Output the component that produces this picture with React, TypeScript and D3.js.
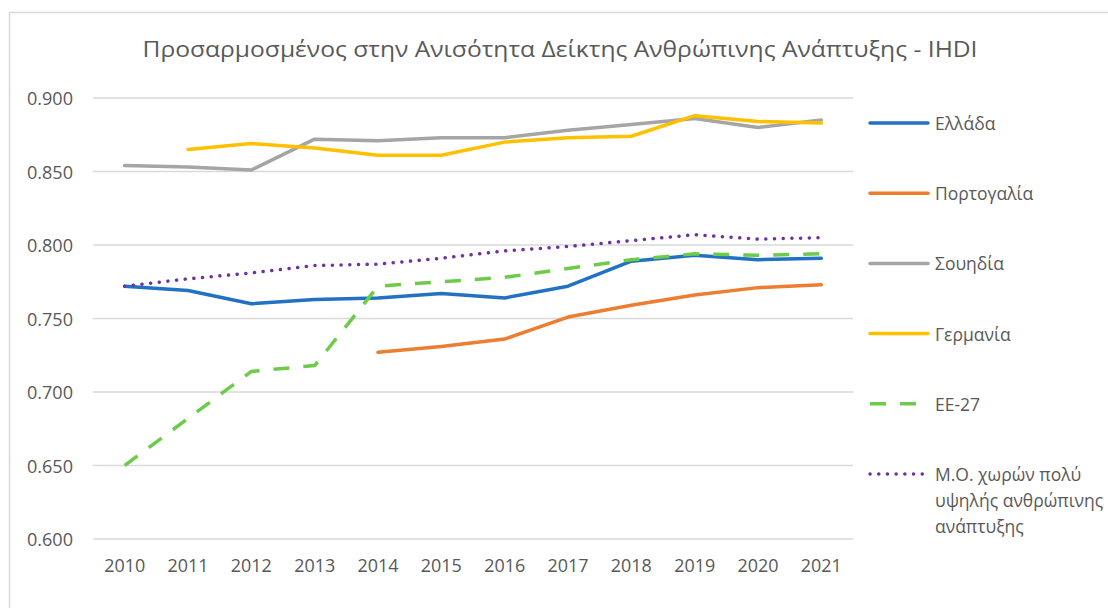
import React from "react";
import * as d3 from "d3";

const years = ["2010","2011","2012","2013","2014","2015","2016","2017","2018","2019","2020","2021"];
const yTicks = [0.6, 0.65, 0.7, 0.75, 0.8, 0.85, 0.9];

const greece: (number | null)[] = [0.772, 0.769, 0.760, 0.763, 0.764, 0.767, 0.764, 0.772, 0.789, 0.793, 0.790, 0.791];
const portugal: (number | null)[] = [null, null, null, null, 0.727, 0.731, 0.736, 0.751, 0.759, 0.766, 0.771, 0.773];
const sweden: (number | null)[] = [0.854, 0.853, 0.851, 0.872, 0.871, 0.873, 0.873, 0.878, 0.882, 0.886, 0.880, 0.885];
const germany: (number | null)[] = [null, 0.865, 0.869, 0.866, 0.861, 0.861, 0.870, 0.873, 0.874, 0.888, 0.884, 0.883];
const eu27: (number | null)[] = [0.650, 0.682, 0.714, 0.718, 0.772, 0.775, 0.778, 0.784, 0.790, 0.794, 0.793, 0.794];
const veryHigh: (number | null)[] = [0.772, 0.777, 0.781, 0.786, 0.787, 0.791, 0.796, 0.799, 0.803, 0.807, 0.804, 0.805];

const seriesNames = ["Ελλάδα", "Πορτογαλία", "Σουηδία", "Γερμανία", "ΕΕ-27", "Μ.Ο. χωρών πολύ υψηλής ανθρώπινης ανάπτυξης"];
const legendLines = [["Ελλάδα"], ["Πορτογαλία"], ["Σουηδία"], ["Γερμανία"], ["ΕΕ-27"], ["Μ.Ο. χωρών πολύ", "υψηλής ανθρώπινης", "ανάπτυξης"]];

const title = "Προσαρμοσμένος στην Ανισότητα Δείκτης Ανθρώπινης Ανάπτυξης - IHDI";

const styles = [
  { color: "#2271c3", dash: undefined as string | undefined, cap: "round" as const },
  { color: "#ed7d31", dash: undefined, cap: "round" as const },
  { color: "#a5a5a5", dash: undefined, cap: "round" as const },
  { color: "#ffc000", dash: undefined, cap: "round" as const },
  { color: "#6dcb4a", dash: "16,14", cap: "butt" as const },
  { color: "#7030a0", dash: "0.1,8.6", cap: "round" as const },
];

const allSeries = [greece, portugal, sweden, germany, eu27, veryHigh];

export default function App() {
  const W = 1108, H = 608;
  const x = d3.scaleBand<string>().domain(years).range([93, 853]).padding(0);
  const y = d3.scaleLinear().domain([0.6, 0.9]).range([539, 98]);
  const cx = (yr: string) => (x(yr) as number) + x.bandwidth() / 2;
  const line = d3
    .line<number | null>()
    .defined((d) => d !== null)
    .x((_, i) => cx(years[i]))
    .y((d) => y(d as number));
  const font = "'Open Sans', 'DejaVu Sans', sans-serif";
  const textColor = "#595959";

  return (
    <svg width={W} height={H} style={{ position: "absolute", left: 0, top: 0, background: "#fff" }} fontFamily={font}>
      <rect x={0} y={0} width={W} height={H} fill="#fff" />
      <rect x={9.5} y={12.5} width={W + 10} height={H + 10} fill="#fff" stroke="#d9d9d9" strokeWidth={1.5} />
      <text x={560} y={48} textAnchor="middle" dominantBaseline="central" fontSize={22} fill={textColor} textLength={835} lengthAdjust="spacingAndGlyphs">
        {title}
      </text>
      {yTicks.map((t) => (
        <g key={t}>
          <line x1={93} x2={853} y1={y(t)} y2={y(t)} stroke="#d9d9d9" strokeWidth={1.5} />
          <text x={73} y={y(t)} textAnchor="end" dominantBaseline="central" fontSize={17.5} fill={textColor} textLength={46} lengthAdjust="spacingAndGlyphs">
            {d3.format(".3f")(t)}
          </text>
        </g>
      ))}
      {years.map((yr) => (
        <text key={yr} x={cx(yr)} y={565} textAnchor="middle" dominantBaseline="central" fontSize={17.5} fill={textColor} textLength={41} lengthAdjust="spacingAndGlyphs">
          {yr}
        </text>
      ))}
      {allSeries.map((s, i) => (
        <path
          key={seriesNames[i]}
          d={line(s) || ""}
          fill="none"
          stroke={styles[i].color}
          strokeWidth={3.5}
          strokeDasharray={styles[i].dash}
          strokeLinecap={styles[i].cap}
          strokeLinejoin="round"
        />
      ))}
      {legendLines.map((lines, i) => {
        const ly = 123 + i * 70.2;
        return (
          <g key={i}>
            <line x1={870} x2={928} y1={ly} y2={ly} stroke={styles[i].color} strokeWidth={3.5}
              strokeDasharray={styles[i].dash} strokeLinecap={styles[i].cap} />
            {lines.map((t, j) => (
              <text key={j} x={935} y={ly + j * 26} dominantBaseline="central" fontSize={17.5} fill={textColor}>
                {t}
              </text>
            ))}
          </g>
        );
      })}
    </svg>
  );
}
